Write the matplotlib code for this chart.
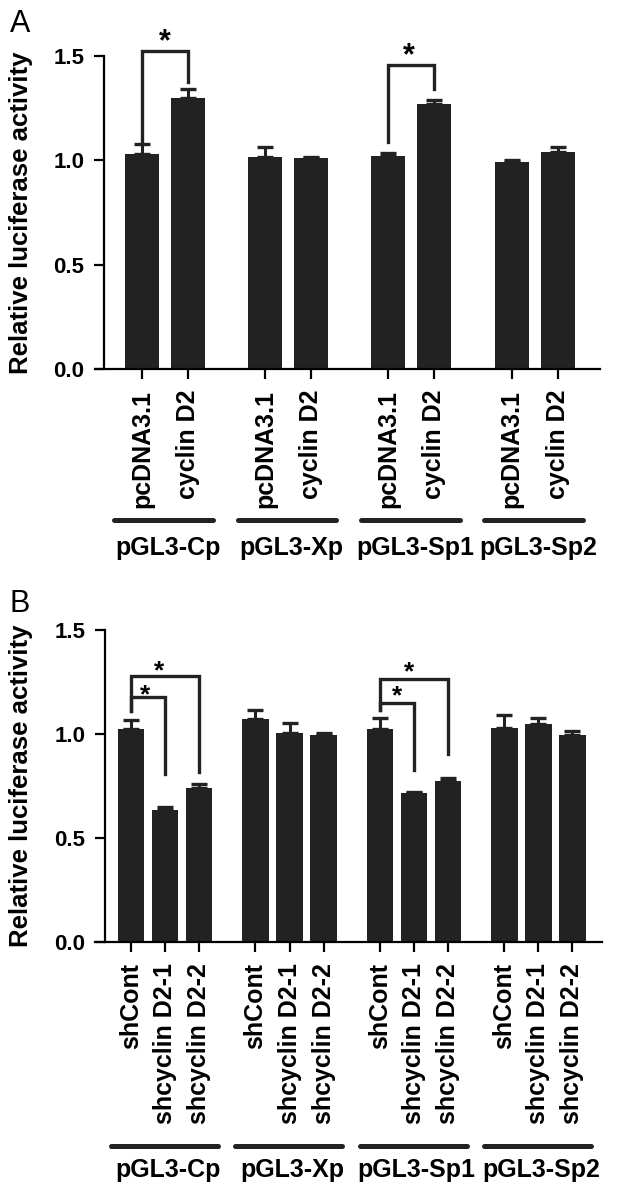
import numpy as np
import matplotlib
matplotlib.use("Agg")
import matplotlib.pyplot as plt

plt.rcParams["font.family"] = ["Liberation Sans", "DejaVu Sans"]

# ---------------------------------------------------------------------------
# data
# ---------------------------------------------------------------------------
groups = ["pGL3-Cp", "pGL3-Xp", "pGL3-Sp1", "pGL3-Sp2"]

a_conditions = ["pcDNA3.1", "cyclin D2"]
a_means = [[1.03, 1.30], [1.015, 1.01], [1.02, 1.27], [0.99, 1.04]]
a_errs = [[0.05, 0.04], [0.05, 0.008], [0.013, 0.02], [0.013, 0.025]]

b_conditions = ["shCont", "shcyclin D2-1", "shcyclin D2-2"]
b_means = [[1.025, 0.635, 0.74], [1.07, 1.005, 0.995],
           [1.025, 0.715, 0.775], [1.03, 1.05, 0.995]]
b_errs = [[0.04, 0.013, 0.022], [0.045, 0.05, 0.012],
          [0.05, 0.008, 0.015], [0.06, 0.027, 0.02]]

# significance brackets: (group, bar_i, bar_j, y_left, y_top, y_right, star_x, star_y)
a_sig = [(0, 0, 1, 1.08, 1.525, 1.375, 0.5, 1.565),
         (2, 0, 1, 1.087, 1.457, 1.341, 0.45, 1.50)]
b_sig = [(0, 0, 2, 1.109, 1.28, 0.817, 0.82, 1.30),
         (0, 0, 1, 1.109, 1.178, 0.808, 0.42, 1.185),
         (2, 0, 2, 1.117, 1.266, 0.905, 0.85, 1.295),
         (2, 0, 1, 1.117, 1.149, 0.825, 0.50, 1.18)]

BAR_COLOR = "#222222"
W, H = 631, 1187


def px_box(left, right, top, bottom):
    return [left / W, 1 - bottom / H, (right - left) / W, (bottom - top) / H]


def draw_panel(ax, conds, means, errs, sig, group_step, bar_width, xlim, spine_x,
               underline_y, label_y, star_size, letter, letter_xy):
    n = len(conds)
    pos, vals, err, ticklabels = [], [], [], []
    for g in range(len(groups)):
        for i in range(n):
            pos.append(g * group_step + i)
            vals.append(means[g][i])
            err.append(errs[g][i])
            ticklabels.append(conds[i])
    pos = np.array(pos)

    # spine position first: moving it resets the tick objects
    for s in ["top", "right"]:
        ax.spines[s].set_visible(False)
    ax.spines["left"].set_position(("data", spine_x))
    ax.spines["left"].set_linewidth(1.6)
    ax.spines["bottom"].set_linewidth(1.6)

    ax.bar(pos, vals, width=bar_width, color=BAR_COLOR, zorder=2)
    ax.errorbar(pos, vals, yerr=[np.zeros(len(err)), err], fmt="none",
                ecolor=BAR_COLOR, elinewidth=2.2, capsize=6, capthick=2.4, zorder=1)

    ax.set_xlim(*xlim)
    ax.set_ylim(0, 1.5)
    ax.set_yticks([0, 0.5, 1.0, 1.5])
    ax.set_yticklabels(["0.0", "0.5", "1.0", "1.5"], fontsize=16, fontweight="bold")
    ax.set_xticks(pos)
    ax.set_xticklabels(ticklabels, rotation=90, fontsize=18, fontweight="bold",
                       va="top", ha="center")
    ax.tick_params(axis="x", length=7, width=1.6, pad=8)
    ax.tick_params(axis="y", length=7, width=1.6, pad=7)
    ax.set_ylabel("Relative luciferase activity", fontsize=18.5, fontweight="bold")
    ax.yaxis.set_label_coords(-0.122, 0.5)

    tr = ax.get_xaxis_transform()
    for g, name in enumerate(groups):
        x0 = g * group_step - 0.6
        x1 = g * group_step + (n - 1) + 0.55
        ax.plot([x0, x1], [underline_y, underline_y], color=BAR_COLOR, lw=3.6,
                solid_capstyle="round", transform=tr, clip_on=False)
        ax.text((x0 + x1) / 2 + 0.1, label_y, name, transform=tr, ha="center",
                va="center", fontsize=18, fontweight="bold")

    for g, i, j, yl, yt, yr, sx, sy in sig:
        xi = g * group_step + i
        xj = g * group_step + j
        ax.plot([xi, xi, xj, xj], [yl, yt, yt, yr], color=BAR_COLOR, lw=2.4,
                clip_on=False, zorder=3, solid_joinstyle="miter")
        ax.text(g * group_step + sx, sy, "*", ha="center", va="center",
                fontsize=star_size, fontweight="bold", zorder=4)

    fig = ax.figure
    fig.text(letter_xy[0] / W, 1 - letter_xy[1] / H, letter, fontsize=22,
             ha="center", va="center")


fig = plt.figure(figsize=(W / 100, H / 100), dpi=100)

# panel A: unit = 46 px, first bar center at 142 px
ax_a = fig.add_axes(px_box(95, 600, 56, 369))
draw_panel(ax_a, a_conditions, a_means, a_errs, a_sig, group_step=2.68,
           bar_width=0.74, xlim=(-1.02, 9.96), spine_x=-0.826,
           underline_y=-0.482, label_y=-0.572, star_size=22, letter="A",
           letter_xy=(20, 24))

# panel B: unit = 34 px, first bar center at 131 px
ax_b = fig.add_axes(px_box(95, 602, 630, 942))
draw_panel(ax_b, b_conditions, b_means, b_errs, b_sig, group_step=3.66,
           bar_width=0.77, xlim=(-1.06, 13.85), spine_x=-0.765,
           underline_y=-0.654, label_y=-0.73, star_size=19, letter="B",
           letter_xy=(20, 604))

fig.savefig("out.png", dpi=100)
